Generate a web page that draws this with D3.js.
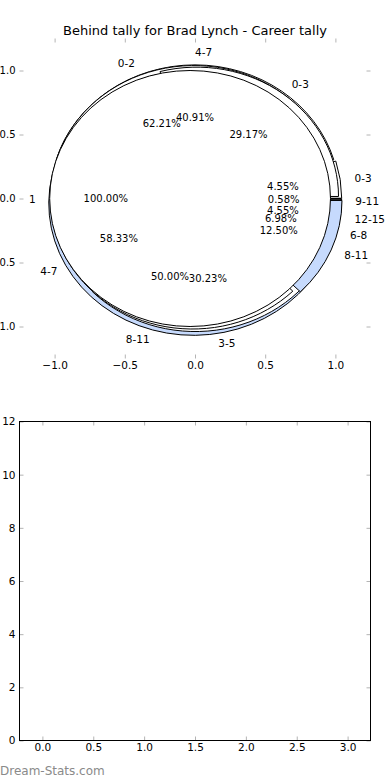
<!DOCTYPE html>
<html>
<head>
<meta charset="utf-8">
<script src="https://cdn.jsdelivr.net/npm/d3@7"></script>
<style>
  body { margin: 0; background: #fff; }
  svg { display: block; font-family: "DejaVu Sans", sans-serif; }
</style>
</head>
<body>
<svg id="chart" width="390" height="780"></svg>
<script>
const title = "Behind tally for Brad Lynch - Career tally";

// one pie per ring, counts
const pieBLabels = ["0-3", "4-7", "8-11", "12-15"];
const pieBValues = [1, 9, 11, 1];
const pieALabels = ["0-2", "3-5", "6-8", "9-11"];
const pieAValues = [107, 52, 12, 1];
const pieCLabels = ["0-3", "4-7", "8-11"];
const pieCValues = [7, 14, 3];
const pieDLabels = ["1"];
const pieDValues = [1];

const pieTicks = [-1, -0.5, 0, 0.5, 1];
const lowerXTicks = [0, 0.5, 1, 1.5, 2, 2.5, 3];
const lowerYTicks = [0, 2, 4, 6, 8, 10, 12];

const svg = d3.select("#chart");
const tickColor = "#b4b4b4";

// colour by label, like the original
const sliceColor = (lab) => lab === "8-11" ? "#c6dafd" : lab === "9-11" ? "#2a2a2a" : "#ffffff";

// ---- top axes (pie) ----
const x = d3.scaleLinear().domain([-1.25, 1.25]).range([19.5, 370.5]);
const y = d3.scaleLinear().domain([-1.25, 1.25]).range([358.5, 38.5]);
const sx = x(1) - x(0), sy = y(0) - y(1);

svg.append("text")
  .attr("x", 195).attr("y", 30)
  .attr("text-anchor", "middle").attr("dominant-baseline", "central")
  .style("font-size", "13px")
  .text(title);

const wedges = svg.append("g");
const texts = svg.append("g").style("font-size", "10px");

const pie = d3.pie().sort(null).startAngle(Math.PI / 2).endAngle(Math.PI / 2 - 2 * Math.PI);

const drawPie = (labels, values, r, explode) => {
  const total = d3.sum(values);
  const arc = d3.arc().innerRadius(0).outerRadius(r);
  pie(values).forEach((d, i) => {
    const th = Math.PI / 2 - (d.startAngle + d.endAngle) / 2;
    const c = Math.cos(th), s = Math.sin(th);
    const ox = explode[i] * c, oy = explode[i] * s;

    wedges.append("path")
      .attr("transform", `translate(${x(ox)},${y(oy)}) scale(${sx},${sy})`)
      .attr("d", arc(d))
      .attr("fill", sliceColor(labels[i]))
      .attr("stroke", "#000")
      .attr("stroke-width", 1)
      .attr("vector-effect", "non-scaling-stroke");

    texts.append("text")
      .attr("x", x(ox + 1.1 * r * c)).attr("y", y(oy + 1.1 * r * s))
      .attr("text-anchor", c > -1e-9 ? "start" : "end")
      .attr("dominant-baseline", "central")
      .style("font-size", "10.5px")
      .text(labels[i]);

    texts.append("text")
      .attr("x", x(ox + 0.6 * r * c)).attr("y", y(oy + 0.6 * r * s))
      .attr("text-anchor", "middle")
      .attr("dominant-baseline", "central")
      .text((100 * values[i] / total).toFixed(2) + "%");
  });
};

drawPie(pieBLabels, pieBValues, 1.03, [0.015, 0.015, 0.015, 0.015]);
drawPie(pieALabels, pieAValues, 1.02, [0.02, 0.02, 0.02, 0.02]);
drawPie(pieCLabels, pieCValues, 1.01, [0.02, 0.02, 0.04]);
drawPie(pieDLabels, pieDValues, 1.0, [0.035]);
texts.raise();

const styleAxis = (g, showLabels) => {
  g.select(".domain").remove();
  g.selectAll(".tick line").attr("stroke", tickColor);
  g.selectAll("text").style("font-size", "10.5px").attr("fill", "#000")
    .style("font-family", '"DejaVu Sans", sans-serif');
  if (!showLabels) g.selectAll("text").remove();
};

const fmt = d3.format(".1f");
svg.append("g").attr("transform", "translate(19.5,0)")
  .call(d3.axisLeft(y).tickValues(pieTicks).tickFormat(fmt).tickSize(-4).tickPadding(4))
  .call(g => styleAxis(g, true))
  .call(g => g.selectAll("text").style("font-size", "10px"));
svg.append("g").attr("transform", "translate(370.5,0)")
  .call(d3.axisRight(y).tickValues(pieTicks).tickSize(-4))
  .call(g => styleAxis(g, false));
svg.append("g").attr("transform", "translate(0,358.5)")
  .call(d3.axisBottom(x).tickValues(pieTicks).tickFormat(fmt).tickSize(-4).tickPadding(3))
  .call(g => styleAxis(g, true));
svg.append("g").attr("transform", "translate(0,38.5)")
  .call(d3.axisTop(x).tickValues(pieTicks).tickSize(-4))
  .call(g => styleAxis(g, false));

// ---- bottom axes (empty) ----
const x2 = d3.scaleLinear().domain([-0.225, 3.225]).range([19.5, 370.5]);
const y2 = d3.scaleLinear().domain([0, 12]).range([740.5, 421.5]);

svg.append("g").attr("transform", "translate(19.5,0)")
  .call(d3.axisLeft(y2).tickValues(lowerYTicks).tickFormat(d3.format("d")).tickSize(-4).tickPadding(4))
  .call(g => styleAxis(g, true));
svg.append("g").attr("transform", "translate(370.5,0)")
  .call(d3.axisRight(y2).tickValues(lowerYTicks).tickSize(-4))
  .call(g => styleAxis(g, false));
svg.append("g").attr("transform", "translate(0,740.5)")
  .call(d3.axisBottom(x2).tickValues(lowerXTicks).tickFormat(fmt).tickSize(-4).tickPadding(3))
  .call(g => styleAxis(g, true));
svg.append("g").attr("transform", "translate(0,421.5)")
  .call(d3.axisTop(x2).tickValues(lowerXTicks).tickSize(-4))
  .call(g => styleAxis(g, false));

svg.append("rect")
  .attr("x", x2.range()[0]).attr("y", y2.range()[1])
  .attr("width", x2.range()[1] - x2.range()[0])
  .attr("height", y2.range()[0] - y2.range()[1])
  .attr("fill", "none").attr("stroke", "#000").attr("stroke-width", 1);

svg.append("text")
  .attr("x", 0).attr("y", 775)
  .style("font-size", "12px").attr("fill", "#8a8a8a")
  .text("Dream-Stats.com");
</script>
</body>
</html>
